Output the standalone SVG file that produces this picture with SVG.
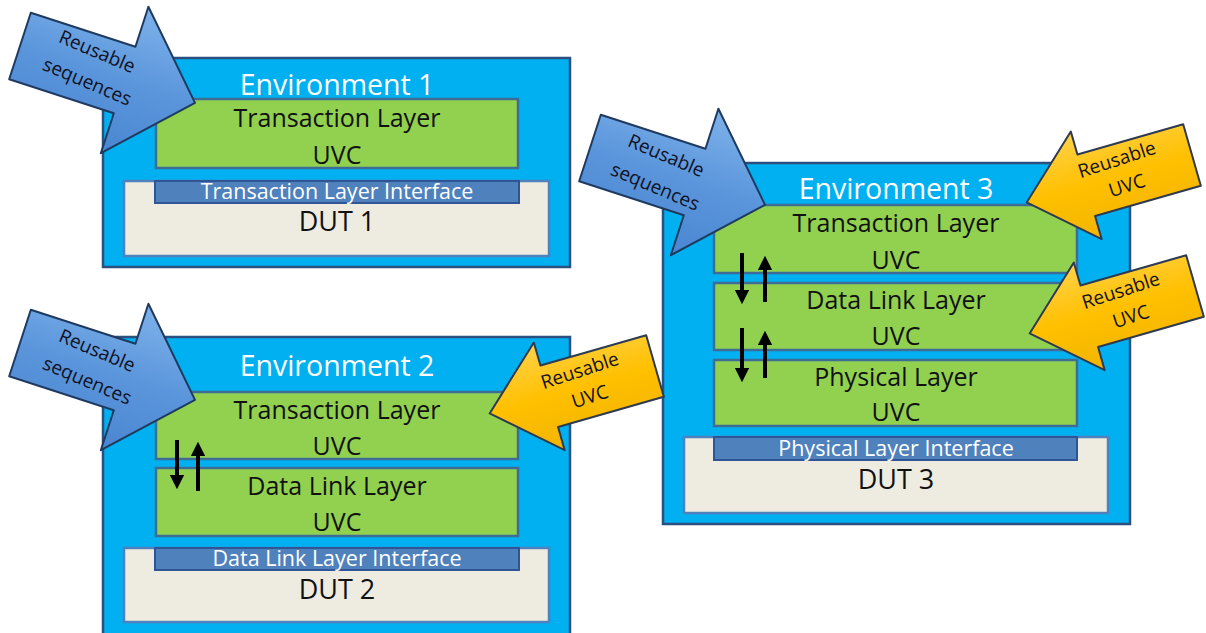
<svg xmlns="http://www.w3.org/2000/svg" width="1206" height="633" viewBox="0 0 1206 633">
<style>
.env{fill:#00B0F0;stroke:#2B4F7E;stroke-width:2.5}
.layer{fill:#92D050;stroke:#3F6C95;stroke-width:2.5}
.dut{fill:#EEECE1;stroke:#4F81BD;stroke-width:2.5}
.bar{fill:#4F81BD;stroke:#2F5597;stroke-width:2}
.t{font-family:"Open Sans","Noto Sans",sans-serif;text-anchor:middle}
.envt{font-size:28.5px;fill:#FFFFFF}
.lt{font-size:25px;fill:#111111}
.it{font-size:21.5px;fill:#FFFFFF}
.dt{font-size:27px;fill:#111111}
.at{font-size:19px;fill:#111122}
.barrow{fill:url(#gb);stroke:#1F3A60;stroke-width:2;stroke-linejoin:round}
.yarrow{fill:url(#gy);stroke:#2E3A50;stroke-width:2;stroke-linejoin:round}
.conn{stroke:#000;stroke-width:4;fill:none}
</style>
<defs>
<linearGradient id="gb" x1="0" y1="0" x2="0" y2="1">
<stop offset="0" stop-color="#7FB2EA"/><stop offset="0.5" stop-color="#5B96DC"/><stop offset="1" stop-color="#4A86D0"/>
</linearGradient>
<linearGradient id="gy" x1="0" y1="1" x2="0" y2="0">
<stop offset="0" stop-color="#FFD24A"/><stop offset="0.5" stop-color="#FFC000"/><stop offset="1" stop-color="#F2B400"/>
</linearGradient>
<polygon id="blueArrow" points="0,-35 110,-35 110,-77 184,0 110,77 110,35 0,35"/>
<polygon id="yellowArrow" points="0,-32 110,-32 110,-56 172,0 110,56 110,32 0,32"/>
<marker id="ah" viewBox="0 0 10 10" refX="5" refY="5" markerWidth="3.6" markerHeight="3.6" orient="auto">
<path d="M0,0 L10,5 L0,10 z" fill="#000"/>
</marker>
</defs>

<g id="env1">
<rect class="env" x="103" y="58" width="467" height="209"/>
<text class="t envt" x="337" y="95">Environment 1</text>
</g>
<g id="tl1">
<rect class="layer" x="156" y="99" width="362" height="69"/>
<text class="t lt" x="337" y="127">Transaction Layer</text>
<text class="t lt" x="337" y="164">UVC</text>
</g>
<g id="dut1">
<rect class="dut" x="124" y="181" width="425" height="75"/>
<rect class="bar" x="155" y="181" width="364" height="22"/>
<text class="t it" x="337" y="199">Transaction Layer Interface</text>
<text class="t dt" x="337" y="231">DUT 1</text>
</g>

<g id="env2">
<rect class="env" x="103" y="337" width="467" height="305"/>
<text class="t envt" x="337" y="376">Environment 2</text>
</g>
<g id="tl2">
<rect class="layer" x="156" y="392" width="362" height="67"/>
<text class="t lt" x="337" y="419">Transaction Layer</text>
<text class="t lt" x="337" y="455">UVC</text>
</g>
<g id="dll2">
<rect class="layer" x="156" y="468" width="362" height="68"/>
<text class="t lt" x="337" y="495">Data Link Layer</text>
<text class="t lt" x="337" y="531">UVC</text>
</g>
<g id="dut2">
<rect class="dut" x="124" y="548" width="425" height="74"/>
<rect class="bar" x="155" y="548" width="364" height="22"/>
<text class="t it" x="337" y="566">Data Link Layer Interface</text>
<text class="t dt" x="337" y="599">DUT 2</text>
</g>

<g id="env3">
<rect class="env" x="663" y="163" width="467" height="361"/>
<text class="t envt" x="896" y="199">Environment 3</text>
</g>
<g id="tl3">
<rect class="layer" x="714" y="205" width="363" height="68"/>
<text class="t lt" x="896" y="232">Transaction Layer</text>
<text class="t lt" x="896" y="269">UVC</text>
</g>
<g id="dll3">
<rect class="layer" x="714" y="283" width="363" height="67"/>
<text class="t lt" x="896" y="309">Data Link Layer</text>
<text class="t lt" x="896" y="345">UVC</text>
</g>
<g id="phy3">
<rect class="layer" x="714" y="360" width="363" height="66"/>
<text class="t lt" x="896" y="386">Physical Layer</text>
<text class="t lt" x="896" y="421">UVC</text>
</g>
<g id="dut3">
<rect class="dut" x="684" y="437" width="424" height="76"/>
<rect class="bar" x="714" y="437" width="363" height="23"/>
<text class="t it" x="896" y="456">Physical Layer Interface</text>
<text class="t dt" x="896" y="489">DUT 3</text>
</g>

<g id="seq1">
<use href="#blueArrow" class="barrow" transform="translate(20,46) rotate(18)"/>
<text class="t at" transform="translate(97,52) rotate(23)" y="6">Reusable</text>
<text class="t at" transform="translate(87,82) rotate(23)" y="6">sequences</text>
</g>
<g id="seq2">
<use href="#blueArrow" class="barrow" transform="translate(20,343) rotate(18)"/>
<text class="t at" transform="translate(97,351) rotate(23)" y="6">Reusable</text>
<text class="t at" transform="translate(87,381) rotate(23)" y="6">sequences</text>
</g>
<g id="seq3">
<use href="#blueArrow" class="barrow" transform="translate(590,148) rotate(18)"/>
<text class="t at" transform="translate(666,156) rotate(23)" y="6">Reusable</text>
<text class="t at" transform="translate(655,187) rotate(23)" y="6">sequences</text>
</g>
<g id="uvc2">
<use href="#yellowArrow" class="yarrow" transform="translate(655,366) rotate(164)"/>
<text class="t at" transform="translate(580,371) rotate(-18)" y="6">Reusable</text>
<text class="t at" transform="translate(590,397) rotate(-18)" y="6">UVC</text>
</g>
<g id="uvc3a">
<use href="#yellowArrow" class="yarrow" transform="translate(1192,155) rotate(164)"/>
<text class="t at" transform="translate(1117,160) rotate(-18)" y="6">Reusable</text>
<text class="t at" transform="translate(1127,186) rotate(-18)" y="6">UVC</text>
</g>
<g id="uvc3b">
<use href="#yellowArrow" class="yarrow" transform="translate(1195,286) rotate(164)"/>
<text class="t at" transform="translate(1121,291) rotate(-18)" y="6">Reusable</text>
<text class="t at" transform="translate(1131,317) rotate(-18)" y="6">UVC</text>
</g>

<g id="connectors">
<line class="conn" x1="177" y1="440" x2="177" y2="482" marker-end="url(#ah)"/>
<line class="conn" x1="198" y1="491" x2="198" y2="449" marker-end="url(#ah)"/>
<line class="conn" x1="742" y1="253" x2="742" y2="297" marker-end="url(#ah)"/>
<line class="conn" x1="765" y1="302" x2="765" y2="263" marker-end="url(#ah)"/>
<line class="conn" x1="742" y1="328" x2="742" y2="375" marker-end="url(#ah)"/>
<line class="conn" x1="765" y1="378" x2="765" y2="338" marker-end="url(#ah)"/>
</g>
</svg>
